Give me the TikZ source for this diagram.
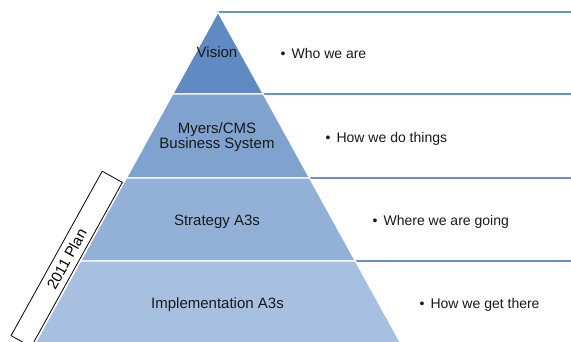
\documentclass[tikz,border=0pt]{standalone}
\usepackage{fontspec}
\setmainfont{Liberation Sans}
\definecolor{rowline}{RGB}{104,145,200}
\definecolor{lvlA}{RGB}{95,139,194}
\definecolor{lvlB}{RGB}{127,162,206}
\definecolor{lvlC}{RGB}{147,177,215}
\definecolor{lvlD}{RGB}{167,192,223}
\tikzset{
  row/.style={fill=white, draw=rowline, line width=1.3pt},
  level/.style={draw=white, line width=1.2pt},
  lbl/.style={font=\fontsize{15}{15}\selectfont, text=black!90, inner sep=0pt},
  bul/.style={anchor=base west, font=\fontsize{14}{16}\selectfont, text=black!90, inner sep=0pt},
  planbox/.style={draw=black, line width=0.8pt, fill=white, rotate=61,
    minimum width=188pt, minimum height=23pt, inner sep=0pt,
    font=\fontsize{15}{15}\selectfont}
}
\begin{document}
\begin{tikzpicture}[x=1pt,y=-1pt]
    \useasboundingbox (0,0) rectangle (571,341);
    \clip (0,0) rectangle (571,341);

    % Faixas da direita
    \draw[row] (218,12) rectangle (580,94);
    \draw[row] (218,94) rectangle (580,178);
    \draw[row] (218,178) rectangle (580,261);
    \draw[row] (218,261) rectangle (580,350);

    % Piramide
    \filldraw[level, fill=lvlA] (218,12) -- (263.3,94) -- (172.7,94) -- cycle;
    \filldraw[level, fill=lvlB] (172.7,94) -- (263.3,94) -- (309.6,178) -- (126.4,178) -- cycle;
    \filldraw[level, fill=lvlC] (126.4,178) -- (309.6,178) -- (355.4,261) -- (80.6,261) -- cycle;
    \filldraw[level, fill=lvlD] (80.6,261) -- (355.4,261) -- (401.8,345) -- (34.2,345) -- cycle;

    \node[lbl, anchor=base] (vision) at (217,57) {Vision};
    \node[lbl, align=center] (myers) at (217,137) {Myers/CMS\\Business System};
    \node[lbl, anchor=base] (strategy) at (217,225) {Strategy A3s};
    \node[lbl, anchor=base] (impl) at (217.5,308) {Implementation A3s};

    % Textos
    \node[bul] (who) at (280.5,58) {•\hspace{6pt}Who we are};
    \node[bul] (how) at (325.5,142) {•\hspace{6pt}How we do things};
    \node[bul] (where) at (372.5,225) {•\hspace{6pt}Where we are going};
    \node[bul] (get) at (419.5,308) {•\hspace{6pt}How we get there};

    % Plano
    \node[planbox] (plan) at (66.7,259) {2011 Plan};
\end{tikzpicture}
\end{document}
